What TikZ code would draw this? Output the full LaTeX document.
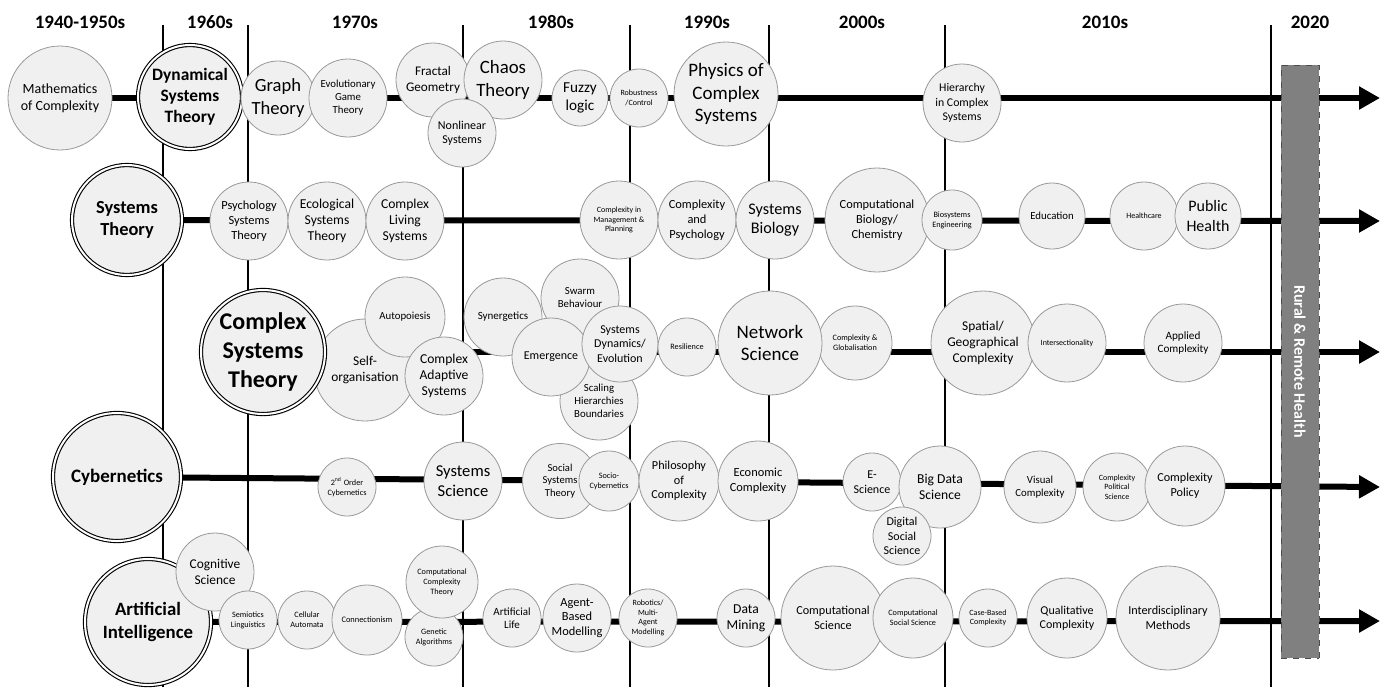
\documentclass[tikz,border=0pt]{standalone}
\usepackage{fontspec}
\setmainfont{Carlito}
\usetikzlibrary{arrows.meta}
\pgfdeclarelayer{bg}
\pgfsetlayers{bg,main}

\begin{document}
\begin{tikzpicture}
[
x=0.5pt, y=-0.5pt,
bub/.style={circle, draw=black!40, line width=0.4pt, fill=black!6, inner sep=0pt, align=center, minimum size=#1pt},
core/.style={circle, draw, double, double distance=1pt, line width=0.55pt, fill=black!6, inner sep=0pt, align=center, minimum size=#1pt},
fs/.style={font=\fontsize{#1pt}{\dimexpr#1pt*6/5\relax}\selectfont},
bfs/.style={font=\fontsize{#1pt}{\dimexpr#1pt*6/5\relax}\selectfont\bfseries},
head/.style={anchor=base, font=\fontsize{9.5pt}{11pt}\selectfont\bfseries},
sep/.style={line width=1.1pt},
tl/.style={line width=3pt, -{Triangle[length=10.5pt,width=11pt]}},
rrh/.style={draw=black!70, dashed, fill=black!50, text=white, font=\fontsize{8pt}{9pt}\selectfont\bfseries}
]
\useasboundingbox (0,0) rectangle (1385,687);

% decades
\node[head] (d40) at (80,28) {1940-1950s};
\node[head] (d60) at (210,28) {1960s};
\node[head] (d70) at (355,28) {1970s};
\node[head] (d80) at (551,28) {1980s};
\node[head] (d90) at (707,28) {1990s};
\node[head] (d00) at (862,28) {2000s};
\node[head] (d10) at (1105,28) {2010s};
\node[head] (d20) at (1310,28) {2020};

% row 1
\node[bub=52, fs=7] (math) at (60,98) {Mathematics\\of Complexity};
\node[core=52, bfs=8.7] (dst) at (190,97) {Dynamical\\Systems\\Theory};
\node[bub=37, fs=9.3] (graph) at (278,98) {Graph\\Theory};
\node[bub=39, fs=5.4] (egt) at (348,98) {Evolutionary\\Game\\Theory};
\node[bub=37, fs=6.6] (fractal) at (433,80) {Fractal\\Geometry};
\node[bub=39, fs=9.4] (chaos) at (503,80) {Chaos\\Theory};
\node[bub=34, fs=6] (nonlin) at (462,133) {Nonlinear\\Systems};
\node[bub=28, fs=7.6] (fuzzy) at (580,98) {Fuzzy\\logic};
\node[bub=29, fs=4] (robust) at (639,98) {Robustness\\/Control};
\node[bub=52, fs=9.5] (physics) at (726,94) {Physics of\\Complex\\Systems};
\node[bub=39, fs=5.9] (hier) at (962,103) {Hierarchy\\in Complex\\Systems};

% row 2
\node[core=55, bfs=9.2] (st) at (127,220) {Systems\\Theory};
\node[bub=39, fs=6.2] (psy) at (249,221) {Psychology\\Systems\\Theory};
\node[bub=39, fs=6.8] (eco) at (327,221) {Ecological\\Systems\\Theory};
\node[bub=39, fs=6.8] (cls) at (405,221) {Complex\\Living\\Systems};
\node[bub=39, fs=4] (cmp) at (619,220) {Complexity in\\Management \&\\Planning};
\node[bub=39, fs=6.2] (cpsy) at (697,220) {Complexity\\and\\Psychology};
\node[bub=39, fs=8.1] (sysbio) at (775,220) {Systems\\Biology};
\node[bub=52, fs=6.2] (compbio) at (877,220) {Computational\\Biology/\\Chemistry};
\node[bub=30, fs=4.1] (biosys) at (952,220) {Biosystems\\Engineering};
\node[bub=33, fs=5.4] (edu) at (1052,216) {Education};
\node[bub=34, fs=4] (health) at (1144,216) {Healthcare};
\node[bub=33, fs=8] (pubh) at (1208,216) {Public\\Health};

% row 3
\node[bub=51, fs=6.7] (selforg) at (365,370) {Self-\\organisation};
\node[core=62, bfs=12] (cst) at (263,352) {Complex\\Systems\\Theory};
\node[bub=40, fs=5.4] (auto) at (405,317) {Autopoiesis};
\node[bub=39, fs=6.8] (cas) at (444,376) {Complex\\Adaptive\\Systems};
\node[bub=39, fs=5.4] (scaling) at (599,401) {Scaling\\Hierarchies\\Boundaries};
\node[bub=39, fs=5.5] (synerg) at (503,317) {Synergetics};
\node[bub=39, fs=5.4] (swarm) at (580,298) {Swarm\\Behaviour};
\node[bub=39, fs=6] (emerg) at (551,357) {Emergence};
\node[bub=38, fs=6] (sysdyn) at (620,344) {Systems\\Dynamics/\\Evolution};
\node[bub=29, fs=4.1] (resil) at (687,347) {Resilience};
\node[bub=37, fs=4.1] (glob) at (855,343) {Complexity \&\\Globalisation};
\node[bub=52, fs=9.5] (netsci) at (770,343) {Network\\Science};
\node[bub=52, fs=6.7] (spatial) at (983,343) {Spatial/\\Geographical\\Complexity};
\node[bub=39, fs=4] (inter) at (1067,343) {Intersectionality};
\node[bub=39, fs=5.6] (applied) at (1183,343) {Applied\\Complexity};

% row 4
\node[core=64, bfs=9.5] (cyber) at (117,477) {Cybernetics};
\node[bub=29, fs=4.1] (second) at (347,487) {2\textsuperscript{nd} Order\\Cybernetics};
\node[bub=39, fs=8.3] (syssci) at (463,481) {Systems\\Science};
\node[bub=37.5, fs=5.3] (sst) at (560,481) {Social\\Systems\\Theory};
\node[bub=30, fs=4.1] (socio) at (609,481) {Socio-\\Cybernetics};
\node[bub=40, fs=6.1] (philo) at (679,481) {Philosophy\\of\\Complexity};
\node[bub=40, fs=6.2] (econ) at (758,481) {Economic\\Complexity};
\node[bub=29, fs=6] (esci) at (872,482) {E-\\Science};
\node[bub=41, fs=6.8] (bigdata) at (940,487) {Big Data\\Science};
\node[bub=29, fs=6] (dss) at (902,536) {Digital\\Social\\Science};
\node[bub=36, fs=5.4] (visual) at (1040,487) {Visual\\Complexity};
\node[bub=34, fs=4] (polsci) at (1117,487) {Complexity\\Political\\Science};
\node[bub=40, fs=6.1] (policy) at (1185,486) {Complexity\\Policy};

% row 5
\node[core=63, bfs=9.4] (ai) at (148,622) {Artificial\\Intelligence};
\node[bub=39, fs=6.7] (cog) at (215,572) {Cognitive\\Science};
\node[bub=29, fs=4.1] (semio) at (248,620) {Semiotics\\Linguistics};
\node[bub=29, fs=4.1] (cell) at (307,620) {Cellular\\Automata};
\node[bub=35, fs=4.2] (conn) at (367,620) {Connectionism};
\node[bub=29, fs=4.1] (genetic) at (434,637) {Genetic\\Algorithms};
\node[bub=36, fs=4.1] (cct) at (442,582) {Computational\\Complexity\\Theory};
\node[bub=29, fs=5.5] (alife) at (512,618) {Artificial\\Life};
\node[bub=34, fs=6.2] (abm) at (577,618) {Agent-\\Based\\Modelling};
\node[bub=29, fs=4] (robot) at (648,618) {Robotics/\\Multi-\\Agent\\Modelling};
\node[bub=29, fs=6.8] (mining) at (746,618) {Data\\Mining};
\node[bub=52, fs=6.1] (compsci) at (833,618) {Computational\\Science};
\node[bub=40, fs=4.1] (css) at (913,618) {Computational\\Social Science};
\node[bub=29, fs=4] (cbc) at (988,618) {Case-Based\\Complexity};
\node[bub=40, fs=6] (qual) at (1067,618) {Qualitative\\Complexity};
\node[bub=52, fs=6.1] (interd) at (1168,618) {Interdisciplinary\\Methods};

% ends of the time lines
\coordinate (e1) at (1380,98);
\coordinate (e2) at (1380,221);
\coordinate (e3) at (1380,352);
\coordinate (e4) at (1380,487);
\coordinate (e5) at (1380,621);

\node[rrh, minimum width=296.5pt, minimum height=19pt, rotate=-90] (rural) at (1300,361.5) {Rural \& Remote Health};

\begin{pgfonlayer}{bg}
\foreach \x in {163,248,463,630,769,945,1271}
  \draw[sep] (\x,25) -- (\x,687);
\foreach \a/\b in {math/e1, st/e2, cst/e3, cyber/e4, ai/e5}
  \draw[tl] (\a) -- (\b);
\end{pgfonlayer}
\end{tikzpicture}
\end{document}
